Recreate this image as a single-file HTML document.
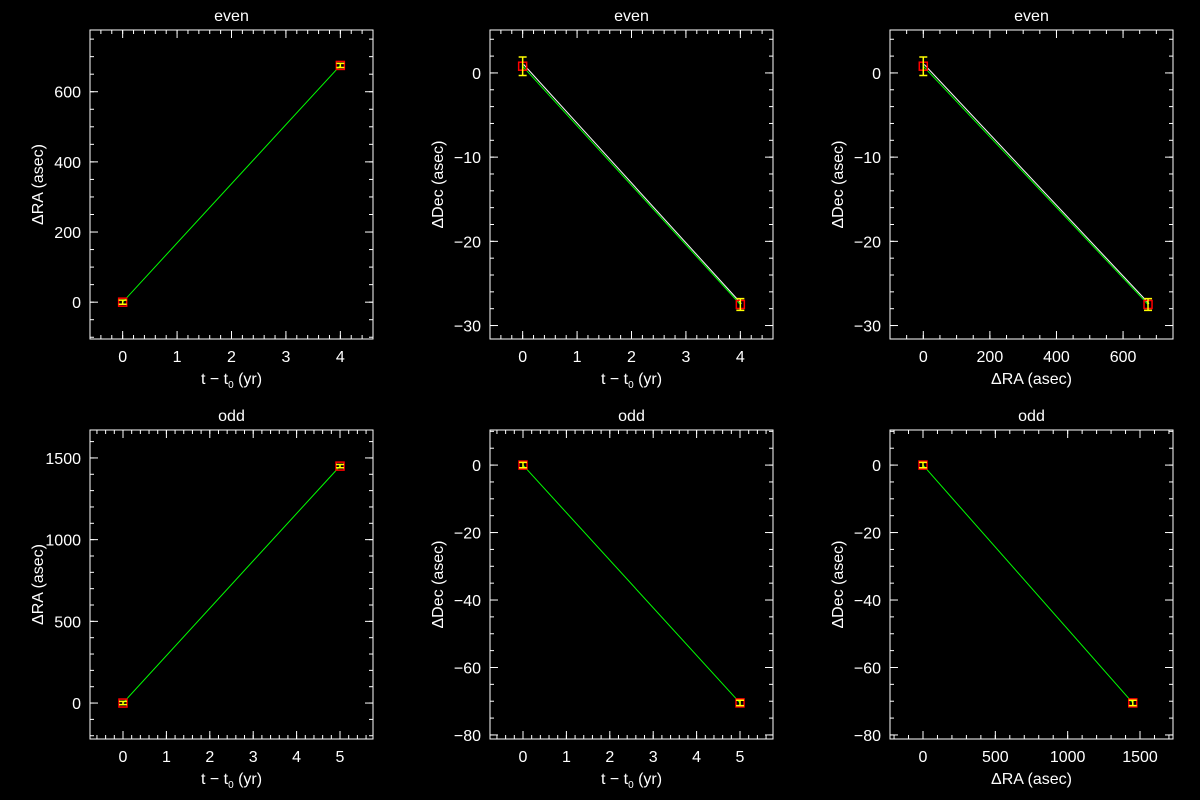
<!DOCTYPE html>
<html><head><meta charset="utf-8"><style>
html,body{margin:0;padding:0;background:#000;}
svg{display:block;}
text{font-family:"Liberation Sans",sans-serif;fill:#fff;font-size:16px;}
</style></head><body>
<svg id="c" width="1200" height="800" viewBox="0 0 1200 800"></svg>
<script>
const evenT=[0,4];
const evenRA=[0,675];
const evenDec=[0.8,-27.5];
const evenDecErr=[1.1,0.7];
const evenRAErr=[6,6];
const evenDecModel=[1.0,-27.4];
const oddT=[0,5];
const oddRA=[0,1450];
const oddDec=[0,-70.5];
const oddDecErr=[0.8,0.8];
const oddRAErr=[10,10];
const xTicksT1=[0,1,2,3,4];
const xTicksT2=[0,1,2,3,4,5];
const yTicksRA1=[0,200,400,600];
const yTicksDec1=[0,-10,-20,-30];
const xTicksRA1=[0,200,400,600];
const yTicksRA2=[0,500,1000,1500];
const yTicksDec2=[0,-20,-40,-60,-80];
const xTicksRA2=[0,500,1000,1500];

const NS="http://www.w3.org/2000/svg";
const svg=document.getElementById('c');
function el(tag,attrs,parent){const e=document.createElementNS(NS,tag);for(const k in attrs)e.setAttribute(k,attrs[k]);(parent||svg).appendChild(e);return e;}

const panels=[
 {name:'even-ra-vs-time',box:[90,30,373,339],xr:[-0.6,4.6],yr:[-105,776],xt:xTicksT1,xm:0.2,yt:yTicksRA1,ym:50,xs:evenT,ys:evenRA,ye:evenRAErr,title:'even',xl:'time',yl:'ΔRA (asec)'},
 {name:'even-dec-vs-time',box:[490,30,773,339],xr:[-0.6,4.6],yr:[-31.6,5.1],xt:xTicksT1,xm:0.2,yt:yTicksDec1,ym:2,xs:evenT,ys:evenDec,ye:evenDecErr,model:evenDecModel,title:'even',xl:'time',yl:'ΔDec (asec)'},
 {name:'even-dec-vs-ra',box:[890,30,1173,339],xr:[-100,750],yr:[-31.6,5.1],xt:xTicksRA1,xm:50,yt:yTicksDec1,ym:2,xs:evenRA,ys:evenDec,ye:evenDecErr,model:evenDecModel,title:'even',xl:'ΔRA (asec)',yl:'ΔDec (asec)'},
 {name:'odd-ra-vs-time',box:[90,430,373,739],xr:[-0.76,5.76],yr:[-220,1671],xt:xTicksT2,xm:0.2,yt:yTicksRA2,ym:100,xs:oddT,ys:oddRA,ye:oddRAErr,title:'odd',xl:'time',yl:'ΔRA (asec)'},
 {name:'odd-dec-vs-time',box:[490,430,773,739],xr:[-0.76,5.76],yr:[-81.2,10.4],xt:xTicksT2,xm:0.2,yt:yTicksDec2,ym:5,xs:oddT,ys:oddDec,ye:oddDecErr,title:'odd',xl:'time',yl:'ΔDec (asec)'},
 {name:'odd-dec-vs-ra',box:[890,430,1173,739],xr:[-228,1728],yr:[-81.2,10.4],xt:xTicksRA2,xm:100,yt:yTicksDec2,ym:5,xs:oddRA,ys:oddDec,ye:oddDecErr,title:'odd',xl:'ΔRA (asec)',yl:'ΔDec (asec)'}
];

panels.forEach(p=>{
 const [x0,y0,x1,y1]=p.box;
 const g=el('g',{});
 
 
 const X=v=>x0+(v-p.xr[0])/(p.xr[1]-p.xr[0])*(x1-x0);
 const Y=v=>y1-(v-p.yr[0])/(p.yr[1]-p.yr[0])*(y1-y0);
 const frame=el('rect',{x:x0,y:y0,width:x1-x0,height:y1-y0,fill:'none',stroke:'#fff','stroke-width':1},g);
 
 
 const eps=1e-9;
 let start=Math.ceil(p.xr[0]/p.xm-eps);
 for(let i=start;i*p.xm<=p.xr[1]+eps;i++){const v=i*p.xm,x=X(v);
  el('line',{x1:x,y1:y1,x2:x,y2:y1-4,stroke:'#fff'},g);el('line',{x1:x,y1:y0,x2:x,y2:y0+4,stroke:'#fff'},g);}
 start=Math.ceil(p.yr[0]/p.ym-eps);
 for(let i=start;i*p.ym<=p.yr[1]+eps;i++){const v=i*p.ym,y=Y(v);
  el('line',{x1:x0,y1:y,x2:x0+4,y2:y,stroke:'#fff'},g);el('line',{x1:x1,y1:y,x2:x1-4,y2:y,stroke:'#fff'},g);}
 p.xt.forEach(v=>{const x=X(v);
  el('line',{x1:x,y1:y1,x2:x,y2:y1-8,stroke:'#fff'},g);el('line',{x1:x,y1:y0,x2:x,y2:y0+8,stroke:'#fff'},g);
  const t=el('text',{x:x,y:y1+23,'text-anchor':'middle'},g);t.textContent=v;
  
  });
 p.yt.forEach(v=>{const y=Y(v);
  el('line',{x1:x0,y1:y,x2:x0+8,y2:y,stroke:'#fff'},g);el('line',{x1:x1,y1:y,x2:x1-8,y2:y,stroke:'#fff'},g);
  const t=el('text',{x:x0-9,y:y+6,'text-anchor':'end'},g);t.textContent=String(v).replace('-','−');
  
  });
 const tt=el('text',{x:(x0+x1)/2,y:y0-9,'text-anchor':'middle'},g);tt.textContent=p.title;
 
 
 const xl=el('text',{x:(x0+x1)/2,y:y1+45,'text-anchor':'middle'},g);
 if(p.xl==='time'){xl.innerHTML='t − t<tspan font-size="10" dy="4">0</tspan><tspan dy="-4"> (yr)</tspan>';}else xl.textContent=p.xl;
 
 
 const yx=x0-47;
 const yl=el('text',{x:yx,y:(y0+y1)/2,'text-anchor':'middle',transform:`rotate(-90 ${yx} ${(y0+y1)/2})`},g);yl.textContent=p.yl;
 
 
 if(p.model){const m=el('line',{x1:X(p.xs[0])+1,y1:Y(p.model[0]),x2:X(p.xs[1])+1,y2:Y(p.model[1]),stroke:'#fff','stroke-width':1},g);
  
  }
 const fl=el('line',{x1:X(p.xs[0]),y1:Y(p.ys[0]),x2:X(p.xs[1]),y2:Y(p.ys[1]),stroke:'#0f0','stroke-width':1},g);
 
 
 p.xs.forEach((xv,i)=>{const x=X(xv),y=Y(p.ys[i]);
  const ya=Y(p.ys[i]+p.ye[i]),yb=Y(p.ys[i]-p.ye[i]);
  const r=el('rect',{x:x-4,y:y-4,width:8,height:8,fill:'none',stroke:'#f00','stroke-width':1.5},g);
  
  
  const e=el('path',{d:`M${x} ${ya}V${yb}M${x-4} ${ya}H${x+4}M${x-4} ${yb}H${x+4}`,stroke:'#ff0','stroke-width':1.5,fill:'none'},g);
  
  });
});
</script>
</body></html>
